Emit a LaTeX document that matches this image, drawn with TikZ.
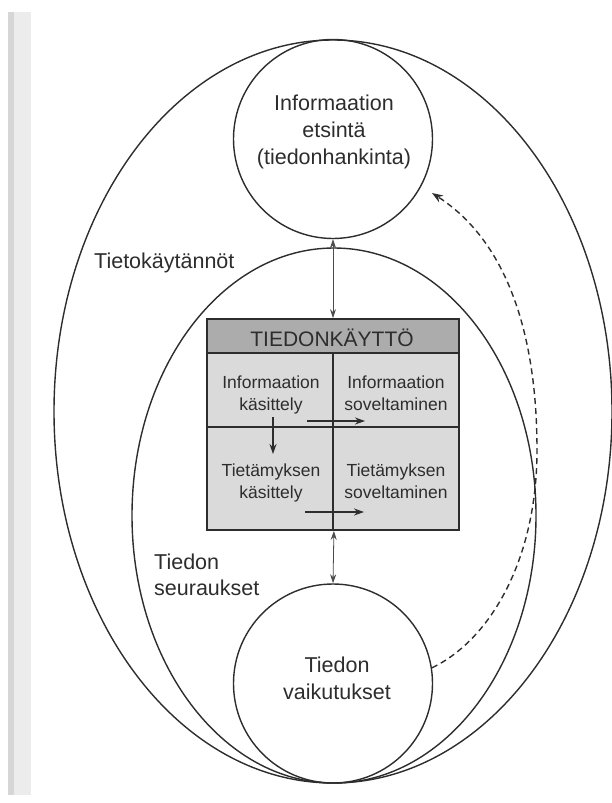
\documentclass[tikz,border=0pt]{standalone}
\usepackage{fontspec}
\setmainfont{Liberation Sans}
\usetikzlibrary{arrows.meta}
\definecolor{ink}{RGB}{45,45,45}
\definecolor{hdrgray}{RGB}{172,172,172}
\definecolor{cellgray}{RGB}{218,218,218}
\definecolor{stripA}{RGB}{214,214,214}
\definecolor{stripB}{RGB}{236,236,236}
\begin{document}
\begin{tikzpicture}[x=1pt,y=-1pt,
  curve/.style={draw=ink, line width=1.4pt},
  ring/.style={circle, draw=ink, line width=1.4pt, minimum size=199pt, inner sep=0pt},
  hdr/.style={rectangle, draw=ink, line width=1.8pt, fill=hdrgray, minimum width=252pt, minimum height=34pt, inner sep=0pt},
  cellA/.style={rectangle, draw=ink, line width=1.8pt, fill=cellgray, minimum width=126pt, minimum height=74pt, inner sep=0pt},
  cellB/.style={rectangle, draw=ink, line width=1.8pt, fill=cellgray, minimum width=126pt, minimum height=103pt, inner sep=0pt},
  bigtxt/.style={inner sep=0pt, text=ink, align=center, font=\fontsize{21.5}{27}\selectfont},
  sidetxt/.style={inner sep=0pt, text=ink, align=left, font=\fontsize{21.5}{26}\selectfont},
  celltxt/.style={inner sep=0pt, text=ink, align=center, font=\fontsize{17.5}{22}\selectfont},
  hdrtxt/.style={inner sep=0pt, text=ink, font=\fontsize{21}{25}\selectfont},
  dbl/.style={draw=ink!85, line width=0.8pt, {Stealth[length=9pt,width=6pt]}-{Stealth[length=9pt,width=6pt]}},
  inarrow/.style={draw=ink, line width=1.3pt, -{Stealth[length=10pt,width=7pt]}},
  dsh/.style={draw=ink, line width=1.4pt, dash pattern=on 6pt off 4pt, -{Stealth[length=11pt,width=8pt]}}
]
\useasboundingbox (0,0) rectangle (612,803);
% scan strip
\fill[stripB] (8,12) rectangle (31,795);
\fill[stripA] (8,12) rectangle (14,795);

% ellipses
\draw[curve] (333,411.5) ellipse [x radius=279pt, y radius=371.5pt];
\draw[curve] (334,515.5) ellipse [x radius=202pt, y radius=267.5pt];

% circles
\node[ring] (srch) at (333,139) {};
\node[ring] (vaik) at (333,683.5) {};

% table
\node[hdr] (head) at (333,336) {};
\node[cellA] (c11) at (270,390) {};
\node[cellA] (c12) at (396,390) {};
\node[cellB] (c21) at (270,478.5) {};
\node[cellB] (c22) at (396,478.5) {};

% texts
\node[bigtxt, anchor=north] (t1) at (334,95) {Informaation\\etsintä\\(tiedonhankinta)};
\node[bigtxt, anchor=north] (t2) at (337,657) {Tiedon\\vaikutukset};
\node[sidetxt, anchor=north west] (t3) at (94,253) {Tietokäytännöt};
\node[sidetxt, anchor=north west] (t4) at (154,554) {Tiedon\\seuraukset};
\node[hdrtxt, anchor=base] (th) at (332,346) {TIEDONKÄYTTÖ};
\node[celltxt, anchor=north] (x11) at (271,375.5) {Informaation\\käsittely};
\node[celltxt, anchor=north] (x12) at (396,375.5) {Informaation\\soveltaminen};
\node[celltxt, anchor=north] (x21) at (271,464) {Tietämyksen\\käsittely};
\node[celltxt, anchor=north] (x22) at (396,464) {Tietämyksen\\soveltaminen};

% arrow end points inside the table
\coordinate (ha1) at (307,421);
\coordinate (hb1) at (365,421);
\coordinate (va1) at (273,417);
\coordinate (vb1) at (273,454);
\coordinate (ha2) at (305,512);
\coordinate (hb2) at (364,512);
\coordinate (dtip) at (432,193);
\coordinate (dmid) at (537,450);

% connectors
\draw[dbl] (srch.south) -- (head.north);
\draw[dbl] (c21.south east) -- (vaik.north);
\draw[inarrow] (ha1) -- (hb1);
\draw[inarrow] (va1) -- (vb1);
\draw[inarrow] (ha2) -- (hb2);
\draw[dsh] (vaik.9) .. controls (490,640) and (537,560) .. (dmid)
  .. controls (537,330) and (505,240) .. (dtip);
\end{tikzpicture}
\end{document}
